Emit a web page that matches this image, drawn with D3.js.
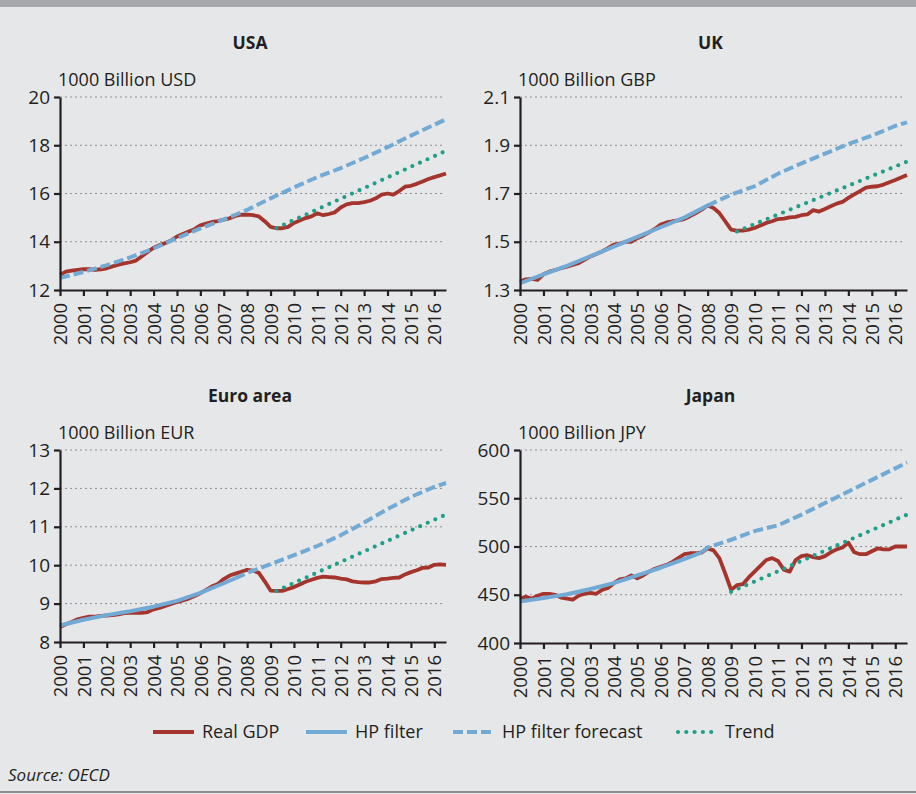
<!DOCTYPE html>
<html>
<head>
<meta charset="utf-8">
<script src="https://cdn.jsdelivr.net/npm/d3@7/dist/d3.min.js"></script>
<style>
  body { margin: 0; background: #e6e7e9; }
  svg { display: block; font-family: "Open Sans", sans-serif; }
</style>
</head>
<body>
<svg id="chart" width="916" height="794"></svg>
<script>
// quarterly time axis, 2000Q1 .. 2016Q3
let quarters = d3.range(67).map(function(i) { return 2000 + i / 4; });
let year_ticks = [2000, 2001, 2002, 2003, 2004, 2005, 2006, 2007, 2008,
                  2009, 2010, 2011, 2012, 2013, 2014, 2015, 2016];

// ---- USA ----
let usa_gdp = [12.63, 12.76, 12.80, 12.83, 12.86, 12.86, 12.83, 12.86,
               12.90, 12.98, 13.05, 13.10, 13.15, 13.22, 13.40, 13.58,
               13.75, 13.85, 13.95, 14.05, 14.22, 14.32, 14.42, 14.52,
               14.68, 14.75, 14.82, 14.86, 14.92, 14.97, 15.07, 15.12,
               15.12, 15.10, 15.05, 14.85, 14.62, 14.56, 14.56, 14.62,
               14.78, 14.88, 14.98, 15.05, 15.18, 15.10, 15.15, 15.22,
               15.42, 15.55, 15.60, 15.60, 15.64, 15.70, 15.80, 15.95,
               16.00, 15.95, 16.10, 16.28, 16.32, 16.40, 16.50, 16.60,
               16.68, 16.75, 16.83];
let usa_hp_years = [];
let usa_hp = [];
let usa_fc_years = [2000, 2001, 2002, 2003, 2004, 2005, 2006, 2007, 2008,
                    2009, 2010, 2011, 2012, 2013, 2014, 2015, 2016, 2016.5];
let usa_fc = [12.50, 12.75, 13.03, 13.35, 13.72, 14.15, 14.55, 14.92, 15.32,
              15.80, 16.25, 16.68, 17.05, 17.47, 17.92, 18.40, 18.85, 19.08];
let usa_trend_years = [2009.25, 2016.5];
let usa_trend = [14.57, 17.77];

// ---- UK ----
let uk_gdp = [1.335, 1.344, 1.346, 1.342, 1.365, 1.376, 1.383, 1.390,
              1.397, 1.404, 1.411, 1.425, 1.439, 1.449, 1.460, 1.474,
              1.488, 1.492, 1.500, 1.500, 1.515, 1.525, 1.539, 1.553,
              1.571, 1.580, 1.585, 1.589, 1.594, 1.606, 1.619, 1.633,
              1.650, 1.640, 1.619, 1.585, 1.550, 1.546, 1.546, 1.550,
              1.557, 1.567, 1.578, 1.585, 1.594, 1.596, 1.601, 1.603,
              1.610, 1.613, 1.631, 1.625, 1.636, 1.647, 1.658, 1.665,
              1.682, 1.696, 1.710, 1.724, 1.728, 1.730, 1.737, 1.747,
              1.756, 1.766, 1.777];
let uk_hp_years = [2000, 2001, 2002, 2003, 2004, 2005, 2006, 2007, 2008];
let uk_hp = [1.328, 1.365, 1.400, 1.440, 1.480, 1.520, 1.560, 1.600, 1.650];
let uk_fc_years = [2008, 2009, 2010, 2011, 2012, 2013, 2014, 2015, 2016, 2016.5];
let uk_fc = [1.650, 1.695, 1.730, 1.782, 1.825, 1.865, 1.905, 1.940, 1.980, 1.995];
let uk_trend_years = [2009.25, 2016.5];
let uk_trend = [1.543, 1.832];

// ---- Euro area ----
let euro_gdp = [8.39, 8.46, 8.52, 8.59, 8.63, 8.66, 8.66, 8.68,
                8.69, 8.70, 8.72, 8.75, 8.76, 8.76, 8.76, 8.78,
                8.85, 8.89, 8.94, 8.99, 9.04, 9.08, 9.13, 9.20,
                9.27, 9.36, 9.45, 9.51, 9.64, 9.73, 9.78, 9.83,
                9.88, 9.86, 9.80, 9.58, 9.34, 9.33, 9.33, 9.38,
                9.43, 9.50, 9.57, 9.62, 9.67, 9.70, 9.69, 9.68,
                9.65, 9.63, 9.58, 9.56, 9.55, 9.55, 9.58, 9.64,
                9.65, 9.67, 9.68, 9.76, 9.82, 9.87, 9.93, 9.94,
                10.01, 10.02, 10.01];
let euro_hp_years = [2000, 2001, 2002, 2003, 2004, 2005, 2006, 2007, 2007.5];
let euro_hp = [8.43, 8.58, 8.70, 8.80, 8.92, 9.07, 9.28, 9.53, 9.66];
let euro_fc_years = [2007.5, 2008, 2009, 2010, 2011, 2012, 2013, 2014, 2015, 2016, 2016.5];
let euro_fc = [9.66, 9.80, 10.03, 10.26, 10.50, 10.78, 11.11, 11.46, 11.78, 12.04, 12.14];
let euro_trend_years = [2009.25, 2016.5];
let euro_trend = [9.33, 11.32];

// ---- Japan ----
let japan_gdp = [446, 448, 446, 449, 451, 451, 450, 447,
                 446, 445, 449, 451, 452, 451, 455, 457,
                 462, 466, 467, 470, 467, 470, 474, 477,
                 479, 481, 484, 488, 492, 493, 493, 494,
                 498, 496, 488, 472, 455, 460, 461, 468,
                 474, 480, 486, 488, 485, 476, 474, 486,
                 490, 491, 489, 488, 490, 494, 497, 499,
                 504, 494, 492, 492, 495, 498, 497, 497,
                 500, 500, 500];
let japan_hp_years = [2000, 2001, 2002, 2003, 2004, 2005, 2006, 2007, 2007.75];
let japan_hp = [443, 446.5, 450.5, 456, 462, 470, 478, 487, 494];
let japan_fc_years = [2007.75, 2008, 2009, 2010, 2011, 2012, 2013, 2014, 2015, 2016, 2016.5];
let japan_fc = [494, 499, 507, 516, 522, 533, 545, 557, 569, 581, 587];
let japan_trend_years = [2009, 2016.5];
let japan_trend = [453, 533];

// colours
let c_gdp = "#a5352c";
let c_hp = "#72aad6";
let c_trend = "#1f9e88";
let c_ink = "#231f20";

function pairs(ts, vs) {
    return ts.map(function(t, i) { return { t: t, v: vs[i] }; });
}

function load_panel(chart, p) {

    // x position scale
    let x = d3.scaleLinear()
        .domain([2000, 2016.5])
        .range([p.left, p.right]);

    // y position scale
    let y = d3.scaleLinear()
        .domain([p.ticks[0], p.ticks[p.ticks.length - 1]])
        .range([p.bottom, p.top]);

    let g = chart.append("g");

    // dotted gridlines
    g.selectAll(".grid")
        .data(p.ticks.slice(1))
        .enter()
        .append("line")
        .attr("x1", p.left)
        .attr("x2", p.right - 3)
        .attr("y1", function(d) { return y(d); })
        .attr("y2", function(d) { return y(d); })
        .style("stroke", "#8f8f8f")
        .style("stroke-width", 1)
        .style("stroke-dasharray", "2,3");

    let line = d3.line()
        .x(function(d) { return x(d.t); })
        .y(function(d) { return y(d.v); });

    g.append("path")
        .datum(pairs(quarters, p.gdp))
        .attr("d", line)
        .style("fill", "none")
        .style("stroke", c_gdp)
        .style("stroke-width", 3.8)
        .style("stroke-linejoin", "round");

    if (p.hp.length) {
        g.append("path")
            .datum(pairs(p.hp_years, p.hp))
            .attr("d", line)
            .style("fill", "none")
            .style("stroke", c_hp)
            .style("stroke-width", 4)
            .style("stroke-linejoin", "round");
    }

    g.append("path")
        .datum(pairs(p.fc_years, p.fc))
        .attr("d", line)
        .style("fill", "none")
        .style("stroke", c_hp)
        .style("stroke-width", 4)
        .style("stroke-dasharray", "10,4");

    g.append("path")
        .datum(pairs(p.trend_years, p.trend))
        .attr("d", line)
        .style("fill", "none")
        .style("stroke", c_trend)
        .style("stroke-width", 4.2)
        .style("stroke-linecap", "round")
        .style("stroke-dasharray", "0,8.3");

    // y axis
    let yAxis = d3.axisLeft(y)
        .tickValues(p.ticks)
        .tickFormat(p.fmt)
        .tickSize(6)
        .tickSizeOuter(0);
    let yAxisGroup = g.append("g")
        .attr("transform", "translate(" + p.left + ",0)")
        .call(yAxis);
    yAxisGroup.selectAll("text")
        .attr("x", -10)
        .style("font-size", "19px")
        .style("font-family", "Open Sans")
        .style("fill", c_ink);

    // x axis with rotated years
    let xAxis = d3.axisBottom(x)
        .tickValues(year_ticks)
        .tickFormat(d3.format("d"))
        .tickSize(6)
        .tickSizeOuter(0);
    let xAxisGroup = g.append("g")
        .attr("transform", "translate(0," + p.bottom + ")")
        .call(xAxis);
    xAxisGroup.selectAll("text")
        .attr("transform", "rotate(-90)")
        .attr("x", -13)
        .attr("y", 0)
        .attr("dy", "0.36em")
        .attr("text-anchor", "end")
        .style("font-size", "18.5px")
        .style("font-family", "Open Sans")
        .style("fill", c_ink);

    g.selectAll(".domain, .tick line")
        .style("stroke", c_ink)
        .style("stroke-width", 2.2);

    // panel title and unit label
    g.append("text")
        .text(p.title)
        .attr("x", (p.left + p.right) / 2 - 3)
        .attr("y", p.top - 48)
        .style("text-anchor", "middle")
        .style("font-size", "17.5px")
        .style("font-weight", "bold")
        .style("fill", c_ink);

    g.append("text")
        .text(p.unit)
        .attr("x", p.left - 2)
        .attr("y", p.top - 11)
        .style("font-size", "18px")
        .style("fill", c_ink);
}

let chart = d3.select("#chart");

chart.append("rect")
    .attr("x", 0).attr("y", 0)
    .attr("width", 916).attr("height", 794)
    .style("fill", "#e6e7e9");
chart.append("rect")
    .attr("x", 0).attr("y", 0)
    .attr("width", 916).attr("height", 7)
    .style("fill", "#a7a8ab");
chart.append("line")
    .attr("x1", 0).attr("x2", 916)
    .attr("y1", 792).attr("y2", 792)
    .style("stroke", "#8c8c8e")
    .style("stroke-width", 2);

load_panel(chart, {
    title: "USA", unit: "1000 Billion USD",
    left: 60, right: 446, top: 97, bottom: 290,
    ticks: [12, 14, 16, 18, 20], fmt: d3.format("d"),
    gdp: usa_gdp, hp_years: usa_hp_years, hp: usa_hp,
    fc_years: usa_fc_years, fc: usa_fc,
    trend_years: usa_trend_years, trend: usa_trend
});
load_panel(chart, {
    title: "UK", unit: "1000 Billion GBP",
    left: 520, right: 907, top: 97, bottom: 290,
    ticks: [1.3, 1.5, 1.7, 1.9, 2.1], fmt: d3.format(".1f"),
    gdp: uk_gdp, hp_years: uk_hp_years, hp: uk_hp,
    fc_years: uk_fc_years, fc: uk_fc,
    trend_years: uk_trend_years, trend: uk_trend
});
load_panel(chart, {
    title: "Euro area", unit: "1000 Billion EUR",
    left: 60, right: 446, top: 450, bottom: 642,
    ticks: [8, 9, 10, 11, 12, 13], fmt: d3.format("d"),
    gdp: euro_gdp, hp_years: euro_hp_years, hp: euro_hp,
    fc_years: euro_fc_years, fc: euro_fc,
    trend_years: euro_trend_years, trend: euro_trend
});
load_panel(chart, {
    title: "Japan", unit: "1000 Billion JPY",
    left: 520, right: 907, top: 450, bottom: 643,
    ticks: [400, 450, 500, 550, 600], fmt: d3.format("d"),
    gdp: japan_gdp, hp_years: japan_hp_years, hp: japan_hp,
    fc_years: japan_fc_years, fc: japan_fc,
    trend_years: japan_trend_years, trend: japan_trend
});

// legend
let legend_items = [
    { name: "Real GDP", x: 153, color: c_gdp, dash: null, width: 3.8 },
    { name: "HP filter", x: 306, color: c_hp, dash: null, width: 4 },
    { name: "HP filter forecast", x: 453, color: c_hp, dash: "10,4", width: 4 },
    { name: "Trend", x: 676, color: c_trend, dash: "0,8.3", width: 4.2 }
];
let legend = chart.selectAll(".legend")
    .data(legend_items)
    .enter()
    .append("g")
    .attr("transform", function(d) { return "translate(" + d.x + ",732)"; });
legend.append("line")
    .attr("x1", function(d) { return d.dash === "0,8.3" ? 2 : 0; })
    .attr("x2", 41)
    .attr("y1", 0).attr("y2", 0)
    .style("stroke", function(d) { return d.color; })
    .style("stroke-width", function(d) { return d.width; })
    .style("stroke-linecap", function(d) { return d.dash === "0,8.3" ? "round" : "butt"; })
    .style("stroke-dasharray", function(d) { return d.dash; });
legend.append("text")
    .text(function(d) { return d.name; })
    .attr("x", 49)
    .attr("y", 0)
    .attr("dy", "0.35em")
    .style("font-size", "18px")
    .style("fill", c_ink);

chart.append("text")
    .text("Source: OECD")
    .attr("x", 8)
    .attr("y", 781)
    .style("font-size", "17px")
    .style("font-style", "italic")
    .style("fill", c_ink);
</script>
</body>
</html>
